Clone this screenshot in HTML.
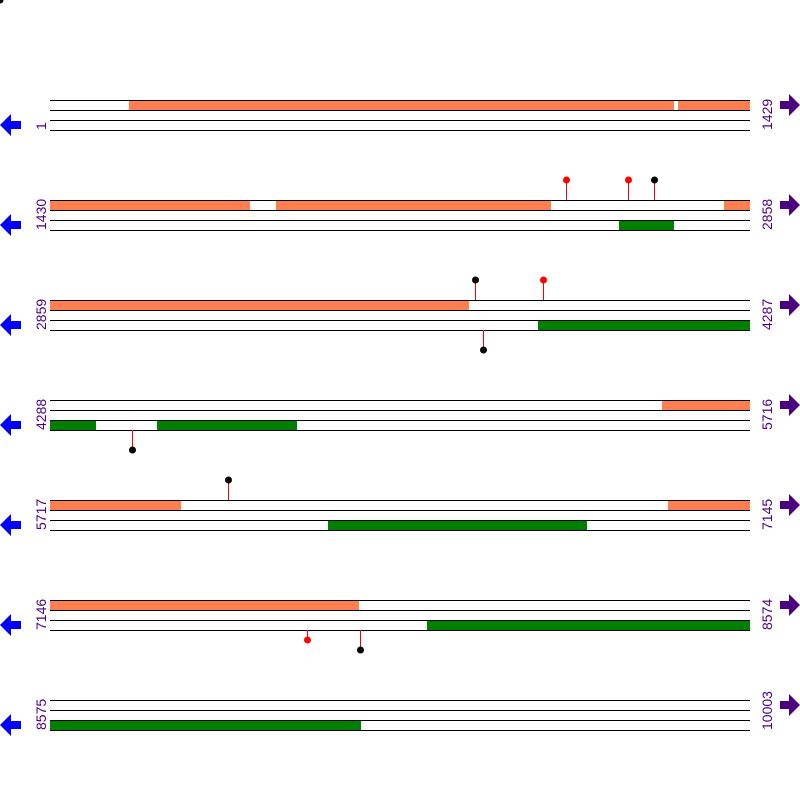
<!DOCTYPE html>
<html><head><meta charset="utf-8"><style>html,body{margin:0;padding:0;background:#fff}svg{display:block}</style></head>
<body>
<svg width="800" height="800" xmlns="http://www.w3.org/2000/svg" font-family="Liberation Sans, sans-serif" font-size="14">
<rect width="800" height="800" fill="#fff"/>
<circle cx="0" cy="0" r="3.5" fill="#000"/>
<g id="all"></g>
<script>
var S='http://www.w3.org/2000/svg',g=document.getElementById('all');
function el(t,a){var e=document.createElementNS(S,t);for(var k in a)e.setAttribute(k,a[k]);g.appendChild(e);return e;}
var blocks=[
 {l:'1',r:'1429',o:[[129,674],[678,750]],gr:[],lt:[],lb:[]},
 {l:'1430',r:'2858',o:[[50,250],[276,551],[724,750]],gr:[[619,674]],lt:[[566,'red'],[628,'red'],[654,'#000']],lb:[]},
 {l:'2859',r:'4287',o:[[50,469]],gr:[[538,750]],lt:[[475,'#000'],[543,'red']],lb:[[483,'#000',20]]},
 {l:'4288',r:'5716',o:[[662,750]],gr:[[50,96],[157,297]],lt:[],lb:[[132,'#000',20]]},
 {l:'5717',r:'7145',o:[[50,181],[668,750]],gr:[[328,587]],lt:[[228,'#000']],lb:[]},
 {l:'7146',r:'8574',o:[[50,359]],gr:[[427,750]],lt:[],lb:[[307,'red',10],[360,'#000',20]]},
 {l:'8575',r:'10003',o:[],gr:[[50,361]],lt:[],lb:[]}
];
blocks.forEach(function(b,i){
 var y=100+i*100;
 b.o.forEach(function(s){el('rect',{x:s[0],y:y,width:s[1]-s[0],height:10,fill:'#ff7f50'});});
 b.gr.forEach(function(s){el('rect',{x:s[0],y:y+20,width:s[1]-s[0],height:10,fill:'#008000'});});
 [0,10,20,30].forEach(function(d){el('line',{x1:50,x2:750,y1:y+d+0.5,y2:y+d+0.5,stroke:'#000','stroke-width':1});});
 b.lt.forEach(function(p){el('line',{x1:p[0]+0.5,x2:p[0]+0.5,y1:y,y2:y-20,stroke:'red'});el('circle',{cx:p[0]+0.5,cy:y-20,r:3.5,fill:p[1]});});
 b.lb.forEach(function(p){el('line',{x1:p[0]+0.5,x2:p[0]+0.5,y1:y+30,y2:y+30+p[2],stroke:'red'});el('circle',{cx:p[0]+0.5,cy:y+30+p[2],r:3.5,fill:p[1]});});
 var t=el('text',{transform:'translate(46,'+(y+30)+') rotate(-90)',fill:'#4b0082'});t.textContent=b.l;
 var t2=el('text',{transform:'translate(772,'+(y+30)+') rotate(-90)',fill:'#4b0082'});t2.textContent=b.r;
 el('polygon',{points:'0,'+(y+25)+' 11,'+(y+14)+' 11,'+(y+21)+' 21,'+(y+21)+' 21,'+(y+29)+' 11,'+(y+29)+' 11,'+(y+36),fill:'#0000ff'});
 el('polygon',{points:'800,'+(y+5)+' 789,'+(y-6)+' 789,'+(y+1)+' 780,'+(y+1)+' 780,'+(y+9)+' 789,'+(y+9)+' 789,'+(y+16),fill:'#4b0082'});
});
</script>
</svg>
</body></html>
